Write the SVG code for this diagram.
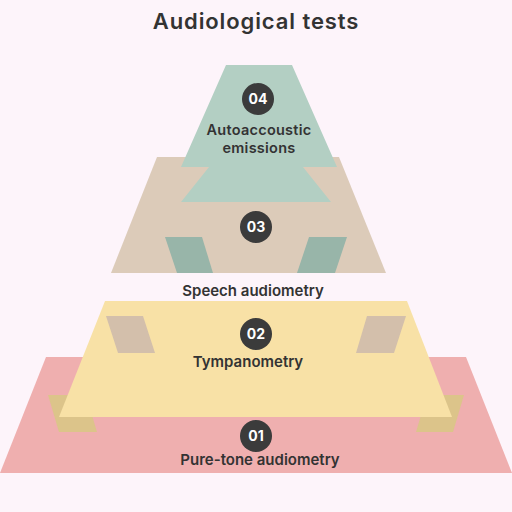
<svg xmlns="http://www.w3.org/2000/svg" width="512" height="512" viewBox="0 0 512 512">
<style>
.lbl{font-family:Inter,"Liberation Sans",sans-serif;font-weight:600;fill:#333333;text-anchor:middle}
.num{font-family:Inter,"Liberation Sans",sans-serif;font-weight:700;fill:#ffffff;text-anchor:middle;font-size:14px}
.badge{fill:#3b3b3b}
</style>
<rect width="512" height="512" fill="#fdf4fa"/>
<text class="lbl" x="256" y="29" font-size="22" font-weight="700" letter-spacing="0.9">Audiological tests</text>
<g id="level1">
<polygon points="46,357 466,357 512,473 0,473" fill="#efafaf"/>
<polygon points="48,395 86,395 97,432 59,432" fill="#dcc48a"/>
<polygon points="427,395 464,395 453,432 416,432" fill="#dcc48a"/>
</g>
<g id="level2">
<polygon points="105,301 407,301 452,417 59,417" fill="#f8e1a6"/>
<polygon points="106,316 143,316 155,353 118,353" fill="#d3bfab"/>
<polygon points="367,316 406,316 394,353 356,353" fill="#d3bfab"/>
</g>
<g id="level3">
<polygon points="157,157 339,157 386,273 111,273" fill="#dccbb9"/>
<polygon points="165,237 202,237 213,273 177,273" fill="#98b5a9"/>
<polygon points="309,237 347,237 335,273 297,273" fill="#98b5a9"/>
</g>
<g id="level4">
<polygon points="226,65 292,65 337,167 303,167 331,202 181,202 209,167 181,167" fill="#b3cfc3"/>
</g>
<g id="badges">
<circle class="badge" cx="258" cy="99" r="16"/>
<text class="num" x="258" y="104">04</text>
<circle class="badge" cx="256" cy="227" r="16"/>
<text class="num" x="256" y="232">03</text>
<circle class="badge" cx="256" cy="334" r="16"/>
<text class="num" x="256" y="339">02</text>
<circle class="badge" cx="256" cy="436" r="16"/>
<text class="num" x="256" y="441">01</text>
</g>
<g id="labels">
<text class="lbl" x="259" y="134.5" font-size="14.5" letter-spacing="0.25">Autoaccoustic</text>
<text class="lbl" x="259" y="152.5" font-size="14.5" letter-spacing="0.25">emissions</text>
<text class="lbl" x="253" y="296" font-size="15">Speech audiometry</text>
<text class="lbl" x="248" y="367" font-size="15">Tympanometry</text>
<text class="lbl" x="260" y="465" font-size="15">Pure-tone audiometry</text>
</g>
</svg>
